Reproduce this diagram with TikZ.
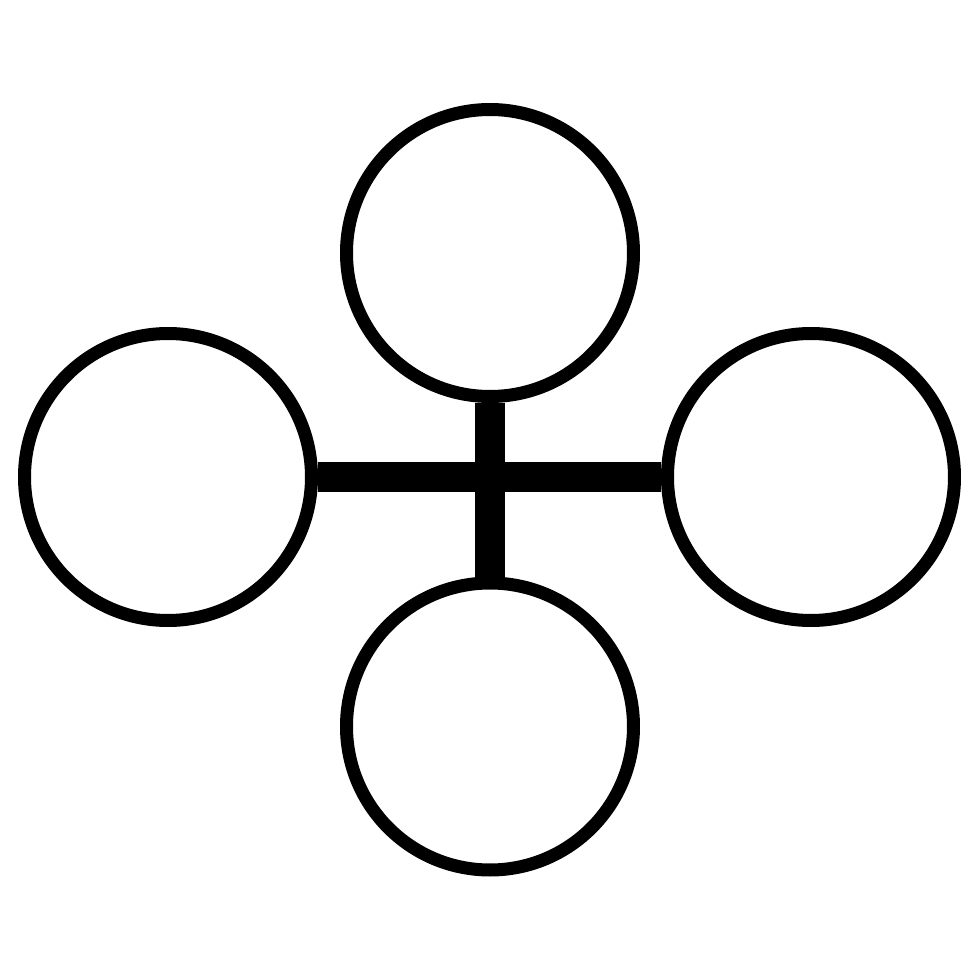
\documentclass[tikz,border=0pt]{standalone}
\usepackage{amsmath, amssymb}
\begin{document}
\begin{tikzpicture}
    \tikzstyle{every node}+=[inner sep=0pt]
    \tikzstyle{ring}=[draw=black, circle, line width=0.13cm, minimum size=2.87cm]
    \tikzstyle{bar}=[black, line width=0.3cm]
    \useasboundingbox (0,0) rectangle (9.8,9.8);
    \node [ring] (top) at (4.9,7.27) {};
    \node [ring] (bottom) at (4.9,2.535) {};
    \node [ring] (left) at (1.68,5.03) {};
    \node [ring] (right) at (8.11,5.03) {};
    \draw [bar] (left.east) -- (right.west);
    \draw [bar] (top.south) -- (bottom.north);
\end{tikzpicture}
\end{document}
